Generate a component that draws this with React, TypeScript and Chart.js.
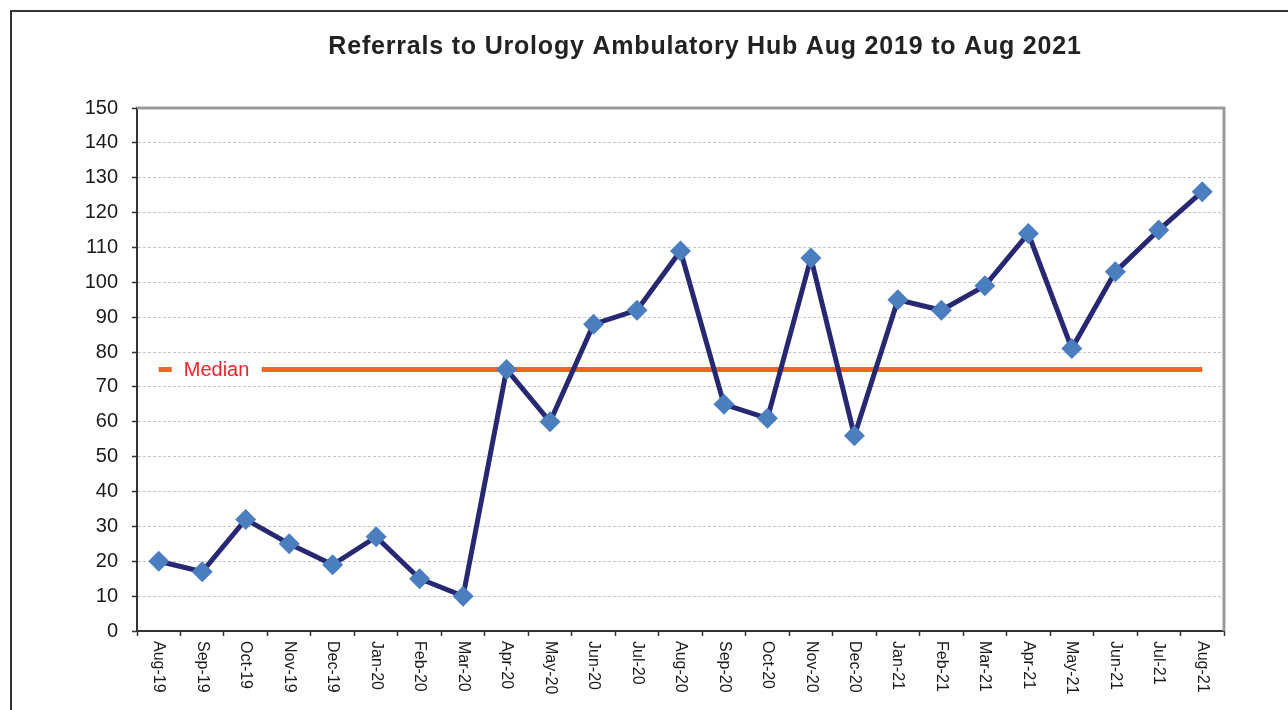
import React, { useEffect, useRef } from "react";
import { Chart, registerables } from "chart.js";

Chart.register(...registerables);

const TITLE = "Referrals to Urology Ambulatory Hub Aug 2019 to Aug 2021";
const MONTHS = [
  "Aug-19", "Sep-19", "Oct-19", "Nov-19", "Dec-19", "Jan-20", "Feb-20", "Mar-20",
  "Apr-20", "May-20", "Jun-20", "Jul-20", "Aug-20", "Sep-20", "Oct-20", "Nov-20",
  "Dec-20", "Jan-21", "Feb-21", "Mar-21", "Apr-21", "May-21", "Jun-21", "Jul-21", "Aug-21",
];
const REFERRALS = [
  20, 17, 32, 25, 19, 27, 15, 10,
  75, 60, 88, 92, 109, 65, 61, 107,
  56, 95, 92, 99, 114, 81, 103, 115, 126,
];
const MEDIAN_VALUE = 75;
const MEDIAN = MONTHS.map(() => MEDIAN_VALUE);
const MEDIAN_LABEL = "Median";
const Y_MIN = 0;
const Y_MAX = 150;
const Y_STEP = 10;

const FONT = "'Liberation Sans', Arial, Helvetica, sans-serif";

const decorPlugin = {
  id: "decor",
  beforeDatasetsDraw(chart: any) {
    const { ctx, chartArea } = chart;
    ctx.save();
    ctx.strokeStyle = "#9a9a9a";
    ctx.lineWidth = 3;
    ctx.beginPath();
    ctx.moveTo(chartArea.left, chartArea.top);
    ctx.lineTo(chartArea.right, chartArea.top);
    ctx.lineTo(chartArea.right, chartArea.bottom);
    ctx.stroke();
    ctx.restore();
  },
  afterDatasetsDraw(chart: any) {
    const { ctx } = chart;
    const x = chart.scales.x;
    const y = chart.scales.y;
    const x0 = x.getPixelForValue(0);
    const ym = y.getPixelForValue(MEDIAN_VALUE);
    ctx.save();
    ctx.fillStyle = "#ffffff";
    ctx.fillRect(x0 + 13, ym - 8, 90, 16);
    ctx.font = `20px ${FONT}`;
    ctx.fillStyle = "#e8262b";
    ctx.textAlign = "left";
    ctx.textBaseline = "middle";
    ctx.fillText(MEDIAN_LABEL, x0 + 25, ym + 1);
    ctx.restore();
  },
  afterDraw(chart: any) {
    const { ctx, chartArea } = chart;
    const x = chart.scales.x;
    ctx.save();
    ctx.font = `16px ${FONT}`;
    ctx.fillStyle = "#1a1a1a";
    ctx.textAlign = "left";
    ctx.textBaseline = "middle";
    MONTHS.forEach((m, i) => {
      const px = x.getPixelForTick(i);
      ctx.save();
      ctx.translate(px, chartArea.bottom + 10);
      ctx.rotate(Math.PI / 2);
      ctx.fillText(m, 0, 0);
      ctx.restore();
    });
    ctx.font = `bold 25px ${FONT}`;
    (ctx as any).letterSpacing = "0.8px";
    ctx.fillStyle = "#222222";
    ctx.textAlign = "center";
    ctx.textBaseline = "middle";
    ctx.fillText(TITLE, 693, 35);
    ctx.restore();
  },
};

export default function App() {
  const ref = useRef<HTMLCanvasElement>(null);
  useEffect(() => {
    if (!ref.current) return;
    const chart = new Chart(ref.current, {
      type: "line",
      data: {
        labels: MONTHS,
        datasets: [
          {
            label: "Referrals",
            data: REFERRALS,
            borderColor: "#262872",
            borderWidth: 5,
            backgroundColor: "#4a7ebf",
            pointStyle: "rectRot",
            pointRadius: 10.5,
            pointHoverRadius: 10.5,
            pointBackgroundColor: "#4a7ebf",
            pointBorderColor: "#4a7ebf",
            pointBorderWidth: 0,
            tension: 0,
          },
          {
            label: MEDIAN_LABEL,
            data: MEDIAN,
            borderColor: "#f26522",
            borderWidth: 5,
            pointRadius: 0,
            tension: 0,
          },
        ],
      },
      options: {
        animation: false,
        responsive: false,
        layout: { padding: { top: 96, right: 64, bottom: 0, left: 0 } },
        plugins: {
          legend: { display: false },
          title: { display: false },
          tooltip: { enabled: false },
        },
        scales: {
          x: {
            type: "category",
            offset: true,
            afterFit(scale: any) {
              scale.height = 79;
            },
            grid: {
              offset: true,
              drawOnChartArea: false,
              drawTicks: true,
              tickLength: 5,
              tickColor: "#333333",
              tickWidth: 1.5,
            },
            border: { display: true, color: "#333333", width: 2 },
            ticks: {
              autoSkip: false,
              minRotation: 90,
              maxRotation: 90,
              color: "rgba(0,0,0,0)",
              font: { size: 16, family: FONT },
            },
          },
          y: {
            min: Y_MIN,
            max: Y_MAX,
            afterFit(scale: any) {
              scale.width = 125;
            },
            grid: {
              color: "#c4c4c4",
              lineWidth: 1,
              drawTicks: true,
              tickLength: 5,
              tickColor: "#333333",
              tickWidth: 1.5,
            },
            border: { display: true, color: "#333333", width: 2, dash: [3, 2] },
            ticks: {
              stepSize: Y_STEP,
              padding: 14,
              color: "#1a1a1a",
              font: { size: 20, family: FONT },
            },
          },
        },
      },
      plugins: [decorPlugin],
    });
    return () => chart.destroy();
  }, []);

  return (
    <div
      style={{
        position: "fixed",
        left: 10,
        top: 10,
        width: 1300,
        height: 720,
        borderLeft: "2px solid #333",
        borderTop: "2px solid #333",
        background: "#fff",
      }}
    >
      <canvas ref={ref} width={1276} height={698} style={{ display: "block" }} />
    </div>
  );
}
